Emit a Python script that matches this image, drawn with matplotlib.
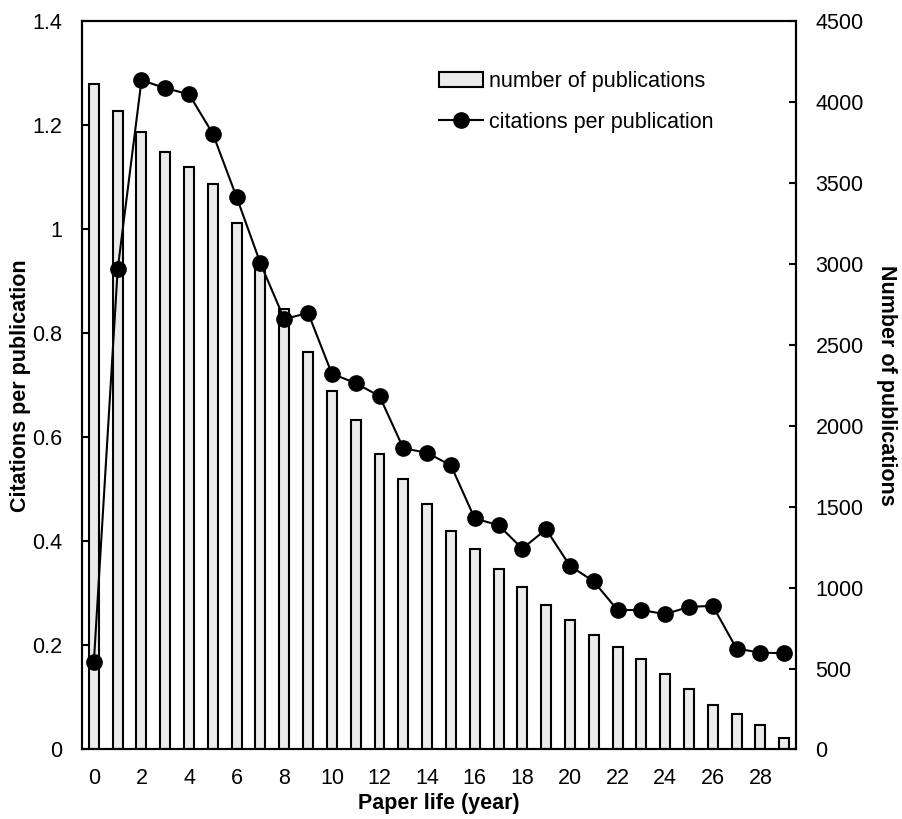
import numpy as np
import matplotlib
matplotlib.use("Agg")
import matplotlib.pyplot as plt

plt.rcParams['font.family'] = ['Liberation Sans', 'DejaVu Sans']

# paper life (year)
years = list(range(30))

# number of publications (right axis, bars)
n_pubs = [4110, 3944, 3816, 3688, 3598, 3493, 3252, 2986, 2719, 2457,
          2216, 2035, 1825, 1669, 1516, 1350, 1237, 1113, 1006, 891,
          800, 705, 631, 557, 464, 372, 275, 219, 151, 69]

# citations per publication (left axis, line)
cites = [0.169, 0.923, 1.286, 1.271, 1.259, 1.183, 1.061, 0.934, 0.827, 0.839,
         0.722, 0.704, 0.679, 0.579, 0.570, 0.546, 0.444, 0.431, 0.386, 0.423,
         0.353, 0.323, 0.268, 0.268, 0.260, 0.274, 0.276, 0.194, 0.186, 0.185]

fs = 15.5

fig = plt.figure(figsize=(9.02, 8.19), dpi=100)
ax = fig.add_axes([0.0909, 0.0849, 0.7916, 0.8895])
ax2 = ax.twinx()

bars = ax2.bar(years, n_pubs, width=0.42, color='#ebebeb', edgecolor='black',
               linewidth=1.5, label='number of publications')
line, = ax.plot(years, cites, color='black', lw=1.5, marker='o', markersize=11,
                label='citations per publication')

# line above bars
ax.set_zorder(ax2.get_zorder() + 1)
ax.patch.set_visible(False)

ax.set_xlim(-0.5, 29.5)
ax.set_ylim(0, 1.4)
ax2.set_ylim(0, 4500)
ax.set_xticks(range(0, 30, 2))
ax.set_yticks(np.arange(0, 1.41, 0.2))
ax.set_yticklabels(['0', '0.2', '0.4', '0.6', '0.8', '1', '1.2', '1.4'])
ax2.set_yticks(range(0, 4501, 500))

ax.tick_params(axis='y', direction='in', length=6, width=1.5, labelsize=fs, pad=14)
ax.tick_params(axis='x', length=0, labelsize=fs, pad=13)
ax2.tick_params(axis='y', direction='in', length=5, width=1.5, labelsize=fs, pad=14)

for a in (ax, ax2):
    for s in a.spines.values():
        s.set_linewidth(1.5)

ax.set_xlabel('Paper life (year)', fontsize=fs, fontweight='bold', labelpad=3)
ax.set_ylabel('Citations per publication', fontsize=fs, fontweight='bold', labelpad=1)
ax2.set_ylabel('Number of publications', fontsize=fs, fontweight='bold',
               rotation=-90, labelpad=24)

ax.legend([bars, line], ['number of publications', 'citations per publication'],
          loc='upper left', bbox_to_anchor=(0.4735, 0.958), frameon=False,
          fontsize=fs, handlelength=2.0, handletextpad=0.3, labelspacing=0.93)

fig.savefig('out.png', dpi=100)
